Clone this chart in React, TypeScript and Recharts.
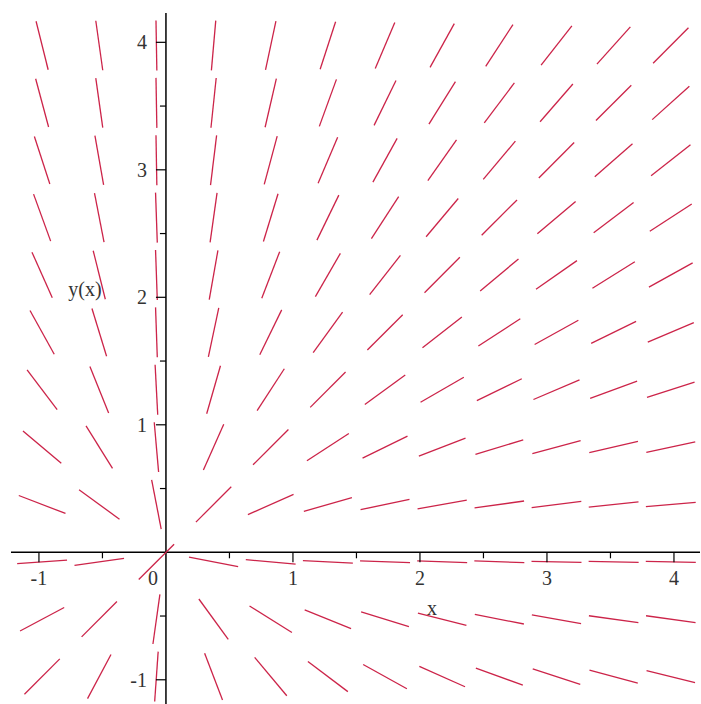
import React from "react";
import { ReferenceLine, Scatter, ScatterChart, XAxis, YAxis } from "recharts";

// grid where the direction field segments sit (same for x and y)
const gridX = [-0.975, -0.525, -0.075, 0.375, 0.825, 1.275, 1.725, 2.175, 2.625, 3.075, 3.525, 3.975];
const gridY = [3.975, 3.525, 3.075, 2.625, 2.175, 1.725, 1.275, 0.825, 0.375, -0.075, -0.525, -0.975];

// segment angle in degrees, one row per gridY value
const angleRows = [
  [-76, -82, -89, 85, 78, 72, 67, 61, 57, 52, 48, 45],
  [-75, -82, -89, 84, 77, 70, 64, 58, 53, 49, 45, 42],
  [-72, -80, -89, 83, 75, 67, 61, 55, 50, 45, 41, 38],
  [-70, -79, -88, 82, 73, 64, 57, 50, 45, 40, 37, 33],
  [-66, -76, -88, 80, 69, 60, 52, 45, 40, 35, 32, 29],
  [-61, -73, -88, 78, 64, 54, 45, 38, 33, 29, 26, 23],
  [-53, -68, -87, 74, 57, 45, 36, 30, 26, 23, 20, 18],
  [-40, -58, -85, 66, 45, 33, 26, 21, 17, 15, 13, 12],
  [-21, -36, -79, 45, 24, 16, 12, 10, 8, 7, 6, 5],
  [4, 8, 45, -11, -5, -3, -2, -2, -2, -1, -1, -1],
  [28, 45, 82, -54, -32, -22, -17, -14, -11, -10, -8, -8],
  [45, 62, 86, -69, -50, -37, -29, -24, -20, -18, -15, -14],
];

const xTickValues = [-1, -0.5, 0.5, 1, 1.5, 2, 2.5, 3, 3.5, 4];
const yTickValues = [-1, -0.5, 0.5, 1, 1.5, 2, 2.5, 3, 3.5, 4];
const xTickLabels = ["-1", "0", "1", "2", "3", "4"];
const xLabelValues = [-1, 0, 1, 2, 3, 4];
const yTickLabels = ["-1", "1", "2", "3", "4"];
const yLabelValues = [-1, 1, 2, 3, 4];

const axisTitles = [
  { x: 2.094, y: -0.434, text: "x" },
  { x: -0.638, y: 2.068, text: "y(x)" },
];

const FIELD_COLOR = "#cc2449";
const SEG_LEN = 50;
const FONT = "'Liberation Serif', 'Times New Roman', serif";

const field = gridY.flatMap((y, r) =>
  gridX.map((x, c) => ({ x, y, angle: angleRows[r][c] }))
);

const xTicks = xTickValues.map((x) => ({ x, y: 0, major: Number.isInteger(x) }));
const yTicks = yTickValues.map((y) => ({ x: 0, y, major: Number.isInteger(y) }));
const xLabels = xLabelValues.map((x, i) => ({ x, y: 0, text: xTickLabels[i] }));
const yLabels = yLabelValues.map((y, i) => ({ x: 0, y, text: yTickLabels[i] }));

const Segment = (props: any) => {
  const { cx, cy, payload } = props;
  const a = (payload.angle * Math.PI) / 180;
  const dx = (SEG_LEN / 2) * Math.cos(a);
  const dy = (SEG_LEN / 2) * Math.sin(a);
  return (
    <line
      x1={cx - dx}
      y1={cy + dy}
      x2={cx + dx}
      y2={cy - dy}
      stroke={FIELD_COLOR}
      strokeWidth={1.3}
    />
  );
};

const XTick = (props: any) => {
  const { cx, cy, payload } = props;
  return <line x1={cx} y1={cy} x2={cx} y2={cy + (payload.major ? 10 : 6)} stroke="#000" strokeWidth={1.2} />;
};

const YTick = (props: any) => {
  const { cx, cy, payload } = props;
  return <line x1={cx - (payload.major ? 10 : 6)} y1={cy} x2={cx} y2={cy} stroke="#000" strokeWidth={1.2} />;
};

const XLabel = (props: any) => {
  const { cx, cy, payload } = props;
  return (
    <text x={payload.x === 0 ? cx - 13 : cx} y={cy + 33} textAnchor="middle" fontFamily={FONT} fontSize={20} fill="#333">
      {payload.text}
    </text>
  );
};

const YLabel = (props: any) => {
  const { cx, cy, payload } = props;
  return (
    <text x={cx - 19} y={cy + 7} textAnchor="end" fontFamily={FONT} fontSize={20} fill="#333">
      {payload.text}
    </text>
  );
};

const Title = (props: any) => {
  const { cx, cy, payload } = props;
  return (
    <text x={cx} y={cy + 7} textAnchor="middle" fontFamily={FONT} fontSize={20} fill="#333">
      {payload.text}
    </text>
  );
};

export default function App() {
  return (
    <div style={{ position: "absolute", left: 0, top: 0, background: "#fff" }}>
      <ScatterChart
        width={701}
        height={704}
        margin={{ top: 13, right: 1, bottom: 0, left: 11 }}
      >
        <XAxis type="number" dataKey="x" domain={[-1.22, 4.205]} allowDataOverflow hide />
        <YAxis type="number" dataKey="y" domain={[-1.19, 4.23]} allowDataOverflow hide />
        <Scatter data={field} shape={Segment} isAnimationActive={false} />
        <ReferenceLine y={0} stroke="#000" strokeWidth={1.5} />
        <ReferenceLine x={0} stroke="#000" strokeWidth={1.5} />
        <Scatter data={xTicks} shape={XTick} isAnimationActive={false} />
        <Scatter data={yTicks} shape={YTick} isAnimationActive={false} />
        <Scatter data={xLabels} shape={XLabel} isAnimationActive={false} />
        <Scatter data={yLabels} shape={YLabel} isAnimationActive={false} />
        <Scatter data={axisTitles} shape={Title} isAnimationActive={false} />
      </ScatterChart>
    </div>
  );
}
